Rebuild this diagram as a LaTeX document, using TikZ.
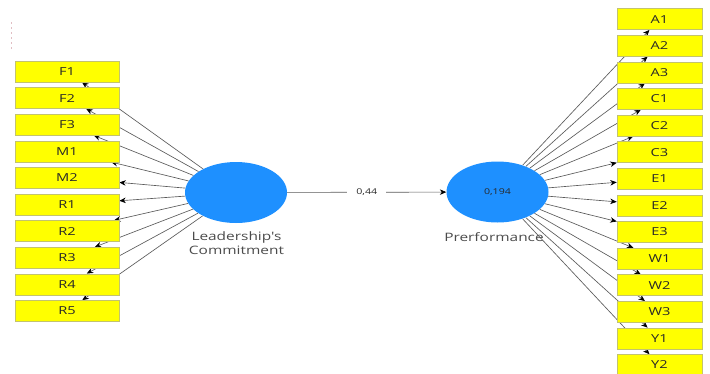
\documentclass[tikz,border=0pt]{standalone}
\usepackage{fontspec}
\setmainfont{Open Sans}
\newfontfamily\wide[FakeStretch=1.33]{Open Sans}
\usetikzlibrary{shapes.geometric,arrows.meta}
\pgfdeclarelayer{bg}
\pgfsetlayers{bg,main}
\definecolor{boxy}{RGB}{255,255,0}
\definecolor{boxb}{RGB}{195,195,110}
\definecolor{lvblue}{RGB}{30,144,255}
\definecolor{txt}{RGB}{40,40,40}
\definecolor{lbl}{RGB}{75,75,75}
\definecolor{ln}{RGB}{90,90,90}
\definecolor{artf}{RGB}{225,190,195}
\begin{document}
\begin{tikzpicture}[x=1pt,y=-1pt,
  indbox/.style={draw=boxb,fill=boxy,line width=0.5pt,minimum height=21pt,inner sep=0pt,
    font=\wide\fontsize{11}{12}\selectfont,text=txt},
  leftbox/.style={indbox,minimum width=104pt},
  rightbox/.style={indbox,minimum width=85pt},
  lv/.style={ellipse,fill=lvblue,minimum width=102pt,minimum height=61pt,inner sep=0pt},
  conn/.style={draw=ln,line width=0.65pt,-{Stealth[length=6.5pt,width=5.5pt,black]}},
  lvlabel/.style={anchor=base,inner sep=0pt,font=\wide\fontsize{11.6}{13}\selectfont,text=lbl},
  coef/.style={fill=white,inner xsep=9pt,inner ysep=3pt,font=\wide\fontsize{8}{9}\selectfont,text=txt}
]
\useasboundingbox (0,0) rectangle (710,373);
\clip (0,0) rectangle (710,373);
\draw[artf,line width=0.6pt,dash pattern=on 2pt off 3pt] (11,22) -- (11,49);
\node[lv] (LC) at (236,192.5) {};
\node[lv] (PF) at (497.5,192) {};
\node[font=\wide\fontsize{8}{9}\selectfont,text=txt] (PFv) at (PF) {0,194};
\node[lvlabel] (LCl1) at (236.5,240) {Leadership's};
\node[lvlabel] (LCl2) at (236.5,254) {Commitment};
\node[lvlabel] (PFl) at (494,241) {Prerformance};
\foreach \n [count=\i from 0] in {F1,F2,F3,M1,M2,R1,R2,R3,R4,R5}
  \node[leftbox] (\n) at (67,71.5+26.6*\i) {\n};
\foreach \n [count=\i from 0] in {A1,A2,A3,C1,C2,C3,E1,E2,E3,W1,W2,W3,Y1,Y2}
  \node[rightbox] (\n) at (659.5,19.2+26.6*\i) {\n};
\begin{pgfonlayer}{bg}
\foreach \n in {F1,F2,F3,M1,M2,R1,R2,R3,R4,R5}
  \draw[conn] (LC) -- (\n);
\foreach \n in {A1,A2,A3,C1,C2,C3,E1,E2,E3,W1,W2,W3,Y1,Y2}
  \draw[conn] (PF) -- (\n);
\draw[conn] (LC) -- node[coef] (c1) {0,44} (PF);
\end{pgfonlayer}
\end{tikzpicture}
\end{document}
